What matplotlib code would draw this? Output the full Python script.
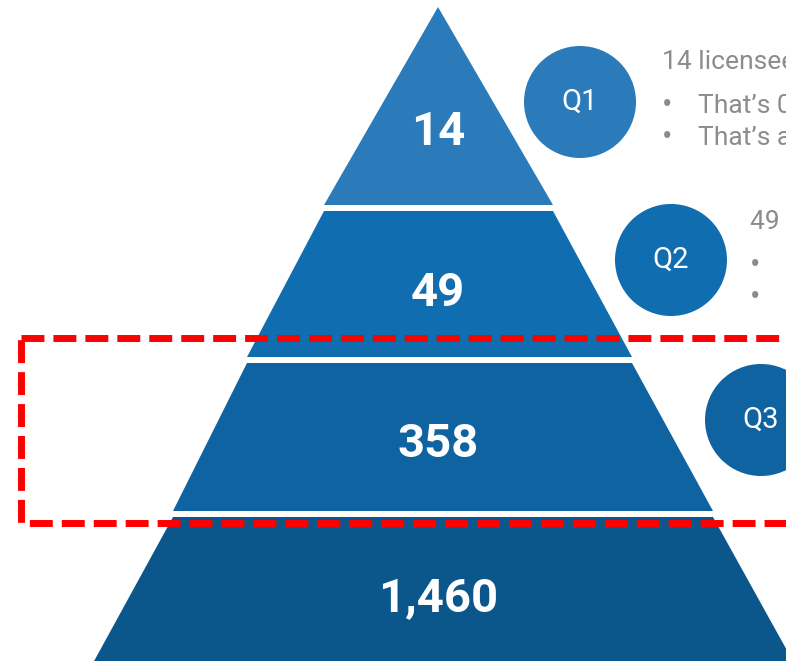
import matplotlib
matplotlib.use("Agg")
import matplotlib.pyplot as plt
from matplotlib.patches import Polygon, Circle, Rectangle

plt.rcParams['font.family'] = ['Roboto', 'DejaVu Sans']

# data
tier_values = ["14", "49", "358", "1,460"]
tier_colors = ["#2b7bba", "#106db0", "#0e63a0", "#0b578c"]
quarters = ["Q1", "Q2", "Q3"]
notes = [
    ("14 licensees", ["That\u2019s 0.7%", "That\u2019s a"]),
    ("49 licensees", ["That\u2019s", "That\u2019s"]),
]

# layout (pixels, y down)
W, H = 786, 661
APEX_X, APEX_Y = 438, 7
GAP = 6
tier_heights = [198, 146, 148, 146]
# half widths of the pyramid at each slice edge, left and right of the apex
hw_left = [0, 114, 191, 265, 345]
hw_right = [0, 115, 194, 275, 356]
label_shift = [26, 9, 7, 8]
circle_xy = [(580, 102), (671, 260), (761, 420)]
CIRCLE_R = 56
note_xy = [(662, 62), (750, 222)]
GRAY = "#8c8c8c"


def main():
    fig = plt.figure(figsize=(W / 100, H / 100), dpi=100)
    ax = fig.add_axes([0, 0, 1, 1])
    ax.set_xlim(0, W)
    ax.set_ylim(H, 0)
    ax.axis("off")

    # pyramid: a triangle cut in slices, slices pushed apart by GAP
    top = APEX_Y
    for i, h in enumerate(tier_heights):
        bot = top + h
        pts = [(APEX_X - hw_left[i], top), (APEX_X + hw_right[i], top),
               (APEX_X + hw_right[i + 1], bot), (APEX_X - hw_left[i + 1], bot)]
        ax.add_patch(Polygon(pts, closed=True, color=tier_colors[i], lw=0))
        ax.text(APEX_X, (top + bot) / 2 + label_shift[i], tier_values[i],
                color="white", fontsize=34, fontweight="bold",
                ha="center", va="center")
        top = bot + GAP

    for i, q in enumerate(quarters):
        cx, cy = circle_xy[i]
        ax.add_patch(Circle((cx, cy), CIRCLE_R, color=tier_colors[i], lw=0))
        ax.text(cx, cy, q, color="white", fontsize=21, ha="center", va="center")

    for (x, y), (head, bullets) in zip(note_xy, notes):
        ax.text(x, y, head, color=GRAY, fontsize=19, ha="left", va="center")
        for j, b in enumerate(bullets):
            by = y + 44 + j * 32
            ax.text(x + 5, by, "\u2022", color=GRAY, fontsize=22, ha="center", va="center")
            ax.text(x + 36, by, b, color=GRAY, fontsize=19, ha="left", va="center")

    ax.add_patch(Rectangle((21, 338), 820, 185, fill=False, edgecolor="#ff0000",
                           lw=5, linestyle=(0, (3.3, 1.3)), zorder=5))

    fig.savefig("out.png", dpi=100)


if __name__ == '__main__':
    main()
